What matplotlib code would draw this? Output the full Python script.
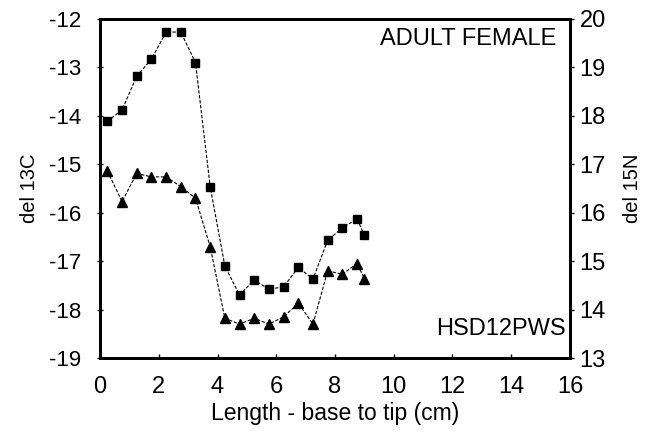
import matplotlib.pyplot as plt
import numpy as np

plt.rcParams['font.family'] = ['Liberation Sans', 'DejaVu Sans']
plt.rcParams['axes.unicode_minus'] = False

# length along hair (cm)
length_c = np.array([0.25, 0.75, 1.25, 1.75, 2.25, 2.75, 3.25, 3.75, 4.25, 4.75,
                     5.25, 5.75, 6.25, 6.75, 7.25, 7.75, 8.25, 8.75, 9.0])
length_n = np.array([0.25, 0.75, 1.25, 1.75, 2.25, 2.75, 3.25, 3.75, 4.25, 4.75,
                     5.25, 5.75, 6.25, 6.75, 7.25, 7.75, 8.25, 8.75, 9.0])
# del 13C (triangles, left axis)
d13c = np.array([-15.14, -15.77, -15.19, -15.26, -15.26, -15.46, -15.70, -16.70,
                 -18.18, -18.30, -18.18, -18.30, -18.15, -17.87, -18.30, -17.20,
                 -17.27, -17.05, -17.36])
# del 15N (squares, right axis)
d15n = np.array([17.89, 18.12, 18.82, 19.17, 19.73, 19.73, 19.10, 16.54, 14.90,
                 14.30, 14.61, 14.42, 14.47, 14.87, 14.63, 15.43, 15.69, 15.87, 15.54])

fig = plt.figure(figsize=(6.52, 4.46), dpi=100)
ax = fig.add_axes([0.1534, 0.1973, 0.7208, 0.7601])
ax2 = ax.twinx()

ax.plot(length_c, d13c, color='black', lw=0.8, ls=(0, (3, 1.5)), marker='^', ms=6.5)
ax2.plot(length_n, d15n, color='black', lw=0.8, ls=(0, (3, 1.5)), marker='s', ms=5.5)

ax.set_xlim(0, 16)
ax.set_ylim(-19, -12)
ax2.set_ylim(13, 20)
ax.set_xticks(np.arange(0, 17, 2))
ax.set_yticks(np.arange(-19, -11, 1))
ax2.set_yticks(np.arange(13, 21, 1))

ax.tick_params(axis='x', direction='in', length=3, width=1, pad=13, labelsize=17)
ax.tick_params(axis='y', direction='inout', length=5, width=1, pad=11, labelsize=16)
ax2.tick_params(axis='y', direction='out', length=3, width=1, pad=4, labelsize=17)

for a in (ax, ax2):
    for s in a.spines.values():
        s.set_linewidth(2)

ax.set_xlabel('Length - base to tip (cm)', fontsize=16.5, labelpad=3)
ax.set_ylabel('del 13C', fontsize=14.5, labelpad=7)
ax2.set_ylabel('del 15N', fontsize=14.5, labelpad=12)

ax.text(0.97, 0.94, 'ADULT FEMALE', transform=ax.transAxes, ha='right', va='center', fontsize=17)
ax.text(0.99, 0.085, 'HSD12PWS', transform=ax.transAxes, ha='right', va='center', fontsize=17)

fig.savefig('out.png', dpi=100)
